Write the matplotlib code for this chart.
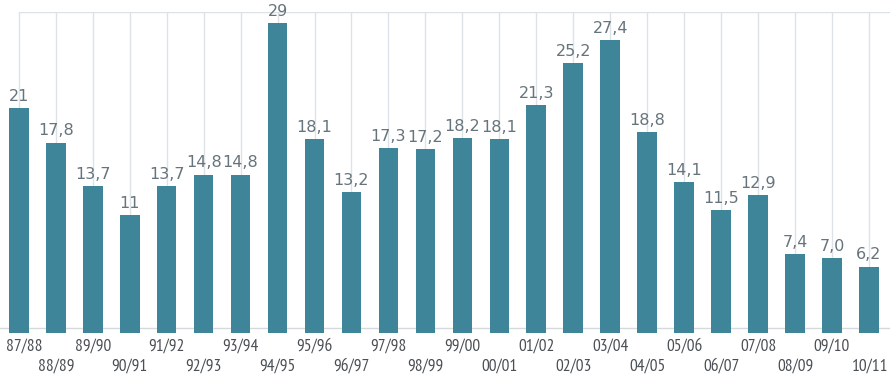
import matplotlib
matplotlib.use("Agg")
import matplotlib.pyplot as plt
from matplotlib import font_manager

seasons = ["87/88", "88/89", "89/90", "90/91", "91/92", "92/93", "93/94", "94/95",
           "95/96", "96/97", "97/98", "98/99", "99/00", "00/01", "01/02", "02/03",
           "03/04", "04/05", "05/06", "06/07", "07/08", "08/09", "09/10", "10/11"]
values = [21, 17.8, 13.7, 11, 13.7, 14.8, 14.8, 29, 18.1, 13.2, 17.3, 17.2,
          18.2, 18.1, 21.3, 25.2, 27.4, 18.8, 14.1, 11.5, 12.9, 7.4, 7.0, 6.2]
value_labels = ["21", "17,8", "13,7", "11", "13,7", "14,8", "14,8", "29", "18,1",
                "13,2", "17,3", "17,2", "18,2", "18,1", "21,3", "25,2", "27,4",
                "18,8", "14,1", "11,5", "12,9", "7,4", "7,0", "6,2"]

names = {f.name for f in font_manager.fontManager.ttflist}
tick_font = "DejaVu Sans"
for cand in ["PT Sans Narrow", "Liberation Sans Narrow", "Roboto Condensed",
             "Archivo Narrow", "Asap Condensed", "Barlow Semi Condensed"]:
    if cand in names:
        tick_font = cand
        break

fig = plt.figure(figsize=(8.9, 3.77), dpi=100)
ax = fig.add_axes([0, 0.117, 1, 0.851])
x = list(range(len(values)))

ax.set_xlim(-0.51, len(values) - 0.43)
ax.set_ylim(0, 30)

# vertical gridlines through bar centers
for xi in x:
    ax.plot([xi, xi], [0, 30], color="#dde2e8", lw=1.0, zorder=1)
ax.plot([0, len(values) - 0.43], [30, 30], color="#dde2e8", lw=1.0, zorder=1)
ax.axhline(0.45, color="#d6d9dc", lw=1.0, zorder=1)

ax.bar(x, values, width=0.53, color="#3f8599", zorder=2)

for xi, v, lab in zip(x, values, value_labels):
    ax.annotate(lab, (xi, v), xytext=(0, 3), textcoords="offset points",
                ha="center", va="bottom", fontsize=11.5, color="#66747b",
                family="DejaVu Sans", clip_on=False, zorder=3)

for s in ax.spines.values():
    s.set_visible(False)
ax.set_xticks([])
ax.set_yticks([])

for xi, lab in zip(x, seasons):
    y = -0.043 if xi % 2 == 0 else -0.106
    ha = "center"
    xx = xi
    if xi == 0:
        ha = "left"; xx = -0.35
    if xi == len(values) - 1:
        ha = "right"; xx = len(values) - 0.47
    ax.text(xx, y, lab, transform=ax.get_xaxis_transform(), ha=ha, va="center",
            fontsize=12.5, color="#4a4f55", family=[tick_font, "DejaVu Sans"])

fig.savefig("out.png", dpi=100)
